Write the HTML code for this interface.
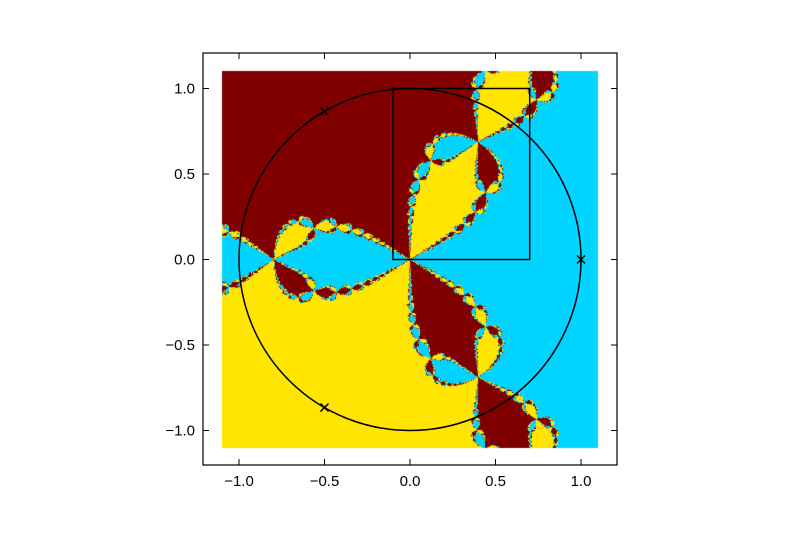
<!DOCTYPE html>
<html><head><meta charset="utf-8"><style>
html,body{margin:0;padding:0;background:#fff;width:800px;height:533px;overflow:hidden}
#wrap{position:relative;width:800px;height:533px}
canvas,svg{position:absolute;left:0;top:0}
text{font-family:"Liberation Sans",sans-serif;font-size:15px;fill:#000}
</style></head><body>
<div id="wrap">
<canvas id="cv" width="800" height="533"></canvas>
<svg id="sv" width="800" height="533"></svg>
</div>
<script>
const roots = [[1,0],[-0.5,0.8660254],[-0.5,-0.8660254]];
const rootColors = [[0,212,255],[128,0,0],[255,229,0]];
const extent = [-1.1,1.1,-1.1,1.1];
const boxRect = [-0.1,0,0.7,1];
const xTicks = [-1.0,-0.5,0.0,0.5,1.0];
const yTicks = [-1.0,-0.5,0.0,0.5,1.0];

const L=203,R=617,T=53,B=465;
const CX=410,CY=259.5,S=171;
const sx=v=>CX+v*S;
const sy=v=>CY-v*S;
const ix=p=>(p-CX)/S;
const iy=p=>(CY-p)/S;

const cv=document.getElementById('cv'),ctx=cv.getContext('2d');
const x0=Math.round(sx(extent[0])),x1=Math.round(sx(extent[1]));
const y0=Math.round(sy(extent[3])),y1=Math.round(sy(extent[2]));
const img=ctx.createImageData(x1-x0,y1-y0);
for(let py=y0;py<y1;py++)for(let px=x0;px<x1;px++){
  let a=ix(px+0.5),b=iy(py+0.5);
  for(let k=0;k<40;k++){
    const a2=a*a-b*b,b2=2*a*b;
    const a3=a2*a-b2*b,b3=a2*b+b2*a;
    const na=a3-1,nb=b3;
    const da=3*a2,db=3*b2;
    const d=da*da+db*db; if(d<1e-20)break;
    const qa=(na*da+nb*db)/d,qb=(nb*da-na*db)/d;
    a-=qa;b-=qb;
  }
  let best=0,bd=1e9;
  roots.forEach((r,i)=>{const dd=(a-r[0])**2+(b-r[1])**2;if(dd<bd){bd=dd;best=i;}});
  const c=rootColors[best],o=((py-y0)*(x1-x0)+(px-x0))*4;
  img.data[o]=c[0];img.data[o+1]=c[1];img.data[o+2]=c[2];img.data[o+3]=255;
}
ctx.putImageData(img,x0,y0);

const sv=document.getElementById('sv'),NS='http://www.w3.org/2000/svg';
function mk(t,at,name){const e=document.createElementNS(NS,t);for(const k in at)e.setAttribute(k,at[k]);


sv.appendChild(e);return e;}
mk('circle',{cx:sx(0),cy:sy(0),r:S,fill:'none',stroke:'#000','stroke-width':1.5},'unit-circle');
mk('rect',{x:sx(boxRect[0]),y:sy(boxRect[3]),width:sx(boxRect[2])-sx(boxRect[0]),height:sy(boxRect[1])-sy(boxRect[3]),fill:'none',stroke:'#000','stroke-width':1.5},'zoom-box');
roots.forEach((r,i)=>{const cx=sx(r[0]),cy=sy(r[1]),s=4;
  mk('path',{d:`M${cx-s},${cy-s}L${cx+s},${cy+s}M${cx-s},${cy+s}L${cx+s},${cy-s}`,stroke:'#000','stroke-width':1.5},'root-marker-'+i);});
mk('rect',{x:L,y:T,width:R-L,height:B-T,fill:'none',stroke:'#000','stroke-width':1.2},'axes-frame');
xTicks.forEach(v=>{const x=sx(v);
  mk('path',{d:`M${x},${B}v-6M${x},${T}v6`,stroke:'#000'},'x-tick');
  const t=mk('text',{x:x,y:B+21,'text-anchor':'middle'},'x-tick-label');t.textContent=(v<0?'\u2212':'')+Math.abs(v).toFixed(1);});
yTicks.forEach(v=>{const y=sy(v);
  mk('path',{d:`M${L},${y}h6M${R},${y}h-6`,stroke:'#000'},'y-tick');
  const t=mk('text',{x:L-8,y:y+5,'text-anchor':'end'},'y-tick-label');t.textContent=(v<0?'\u2212':'')+Math.abs(v).toFixed(1);});
</script>
</body></html>
